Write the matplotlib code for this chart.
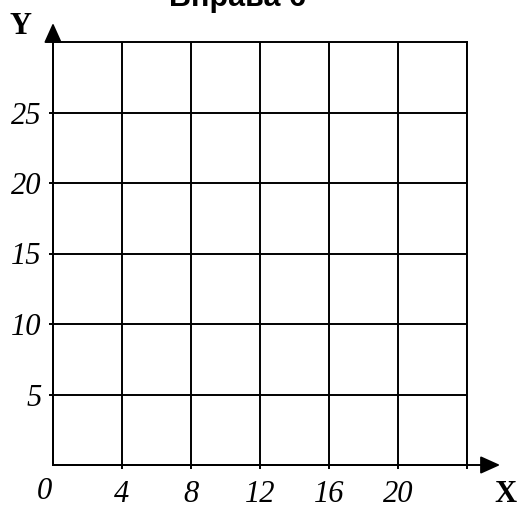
import matplotlib
matplotlib.use('Agg')
import matplotlib.pyplot as plt

# Сітка координат для вправи
title = 'Вправа 6'
x_ticks = [4, 8, 12, 16, 20, 24]
x_labels = ['4', '8', '12', '16', '20', '']
y_ticks = [5, 10, 15, 20, 25]
y_labels = ['5', '10', '15', '20', '25']
x_max = 24
y_max = 30


def main():
    fig = plt.figure(figsize=(5.2, 5.08), dpi=100)
    ax = fig.add_axes([53 / 520, 43 / 508, 414 / 520, 423 / 508])
    ax.set_xlim(0, x_max)
    ax.set_ylim(0, y_max)

    lw = 1.4
    for s in ax.spines.values():
        s.set_linewidth(lw)
        s.set_color('black')

    lab_font = dict(fontsize=22, fontstyle='italic', family='Liberation Serif')
    ax.set_xticks(x_ticks)
    ax.set_xticklabels(x_labels, **lab_font)
    ax.set_yticks(y_ticks)
    ax.set_yticklabels(y_labels, **lab_font)
    ax.grid(True, color='black', linewidth=lw)
    ax.tick_params(axis='both', length=3, width=lw, color='black')
    ax.tick_params(axis='x', pad=8)
    ax.tick_params(axis='y', pad=5)

    # нуль у початку координат
    ax.annotate('0', xy=(0, 0), xytext=(-6, -19), textcoords='offset points',
                ha='center', va='center', annotation_clip=False, **lab_font)

    # стрілки осей
    arrow = dict(arrowstyle='-|>,head_length=0.6,head_width=0.27', color='black',
                 lw=lw, shrinkA=0, shrinkB=0, mutation_scale=20)
    ax.annotate('', xy=(x_max * 1.08, 0), xytext=(0, 0), arrowprops=arrow,
                annotation_clip=False)
    ax.annotate('', xy=(0, y_max * 1.045), xytext=(0, 0), arrowprops=arrow,
                annotation_clip=False)

    fig.text(505 / 520, 1 - 494 / 508, 'X', ha='center', va='center',
             fontsize=22, fontweight='bold', family='Liberation Serif')
    fig.text(21 / 520, 1 - 26 / 508, 'Y', ha='center', va='center',
             fontsize=22, fontweight='bold', family='Liberation Serif')

    fig.text(237.5 / 520, 1 - 6 / 508, title, ha='center', va='baseline',
             fontsize=22, fontweight='bold', family='Liberation Sans')

    fig.savefig('out.png', dpi=100)
    plt.close('all')


if __name__ == '__main__':
    main()
